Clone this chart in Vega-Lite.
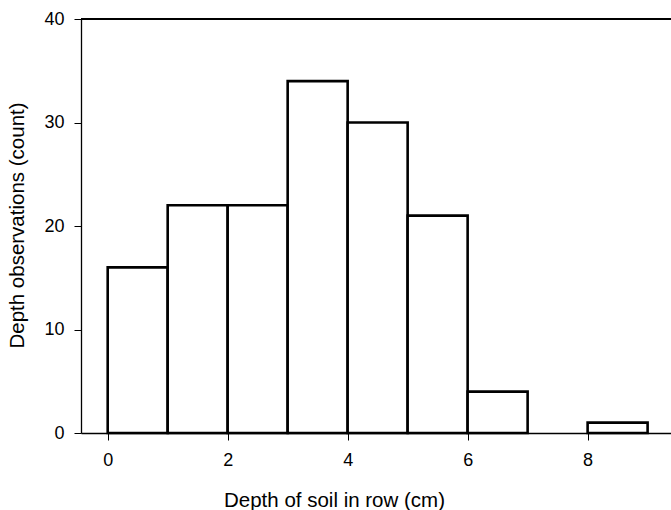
{
  "$schema": "https://vega.github.io/schema/vega-lite/v6.json",
  "width": 590,
  "height": 414,
  "autosize": {"type": "none"},
  "padding": {"left": 81, "top": 19, "right": 0, "bottom": 77},
  "background": "white",
  "config": {
    "view": {"stroke": null},
    "font": "Liberation Sans",
    "axis": {
      "grid": false,
      "domainColor": "black",
      "domainWidth": 1.3,
      "tickColor": "black",
      "tickWidth": 1,
      "tickSize": 7,
      "labelColor": "black",
      "labelFont": "Liberation Sans",
      "labelFontSize": 18,
      "titleFont": "Liberation Sans",
      "titleFontSize": 20.5,
      "titleFontWeight": "normal",
      "titleColor": "black"
    }
  },
  "data": {
    "values": [
      {"bin_start": 0, "bin_end": 1, "count": 16},
      {"bin_start": 1, "bin_end": 2, "count": 22},
      {"bin_start": 2, "bin_end": 3, "count": 22},
      {"bin_start": 3, "bin_end": 4, "count": 34},
      {"bin_start": 4, "bin_end": 5, "count": 30},
      {"bin_start": 5, "bin_end": 6, "count": 21},
      {"bin_start": 6, "bin_end": 7, "count": 4},
      {"bin_start": 8, "bin_end": 9, "count": 1}
    ]
  },
  "layer": [
    {
      "mark": {"type": "bar", "fill": "white", "stroke": "black", "strokeWidth": 2.6},
      "encoding": {
        "x": {
          "field": "bin_start",
          "type": "quantitative",
          "scale": {"domain": [-0.445, 9.39], "nice": false, "zero": false},
          "axis": {
            "values": [0, 2, 4, 6, 8],
            "title": "Depth of soil in row (cm)",
            "labelPadding": 11,
            "titleX": 253,
            "titleY": 73,
            "titleBaseline": "alphabetic",
            "titleAnchor": "middle",
            "titleAlign": "center"
          }
        },
        "x2": {"field": "bin_end"},
        "y": {
          "field": "count",
          "type": "quantitative",
          "scale": {"domain": [0, 40], "nice": false},
          "axis": {
            "values": [0, 10, 20, 30, 40],
            "title": "Depth observations (count)",
            "labelPadding": 10,
            "titleX": -58,
            "titleY": 206,
            "titleBaseline": "alphabetic",
            "titleAlign": "center",
            "titleAngle": -90
          }
        },
        "y2": {"datum": 0}
      }
    },
    {
      "mark": {"type": "rule", "color": "black", "strokeWidth": 1.8},
      "encoding": {"y": {"datum": 40}}
    }
  ]
}
